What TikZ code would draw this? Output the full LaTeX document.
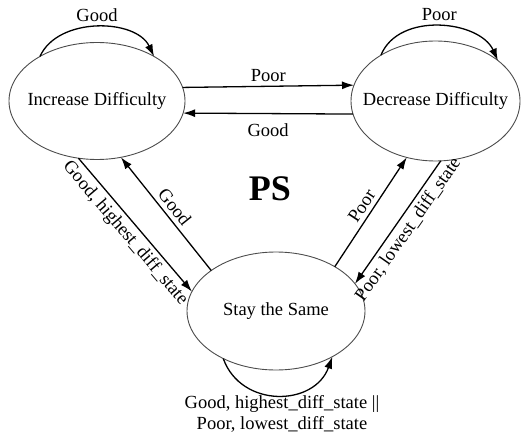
\documentclass[tikz,border=0pt]{standalone}
\usepackage{fontspec}
\setmainfont{Liberation Serif}
\usetikzlibrary{shapes.geometric,arrows.meta}
\begin{document}
\begin{tikzpicture}[x=1pt,y=-1pt,
  font=\fontsize{18.5}{21}\selectfont,
  state/.style={ellipse,draw=black!70,line width=0.9pt,inner sep=0pt,outer sep=0pt},
  trans/.style={line width=1.3pt,-{Latex[length=12pt,width=8pt]}},
  lbl/.style={inner sep=2pt}]
\useasboundingbox (0,0) rectangle (521,438);
\node[state,minimum width=176pt,minimum height=117pt] (inc) at (97,101) {\makebox[0pt]{Increase Difficulty}};
\node[state,minimum width=169pt,minimum height=120pt] (dec) at (435.5,101) {\makebox[0pt]{Decrease Difficulty}};
\node[state,minimum width=178pt,minimum height=118pt] (stay) at (276,311) {\makebox[0pt]{Stay the Same}};
\node[font=\fontsize{36}{40}\selectfont\bfseries] (ps) at (270,189) {PS};
% self loops
\draw[trans] (inc.142) .. controls +(18,-40) and +(-18,-38) .. (inc.38) node[lbl,midway,above=3pt] (lgood) {Good};
\draw[trans] (dec.140) .. controls +(18,-44) and +(-18,-40) .. (dec.33) node[lbl,midway,above=3pt] (lpoor) {Poor};
\draw[trans] (stay.-138) .. controls +(18,50) and +(-18,50) .. (stay.-39);
\node[lbl,align=center] (lloop) at (282,414) {Good, highest\_diff\_state ||\\Poor, lowest\_diff\_state};
% horizontal
\draw[trans] (inc.9.3) -- (dec.169.5) node[lbl,midway,above=2pt] (lhp) {Poor};
\draw[trans] (dec.-171.7) -- (inc.-8.6) node[lbl,midway,below=7pt] (lhg) {Good};
% left diagonals
\draw[trans] (inc.-108.7) -- (stay.167.3) node[lbl,midway,sloped,below=2pt] (ll1) {Good, highest\_diff\_state};
\draw[trans] (stay.148.2) -- (inc.-67) node[lbl,midway,sloped,above=2pt] (ll2) {Good};
% right diagonals
\draw[trans] (stay.37.7) -- (dec.-117) node[lbl,midway,sloped,above=2pt] (lr1) {Poor};
\draw[trans] (dec.-85) -- (stay.19.5) node[lbl,midway,sloped,below=2pt] (lr2) {Poor, lowest\_diff\_state};
\end{tikzpicture}
\end{document}
